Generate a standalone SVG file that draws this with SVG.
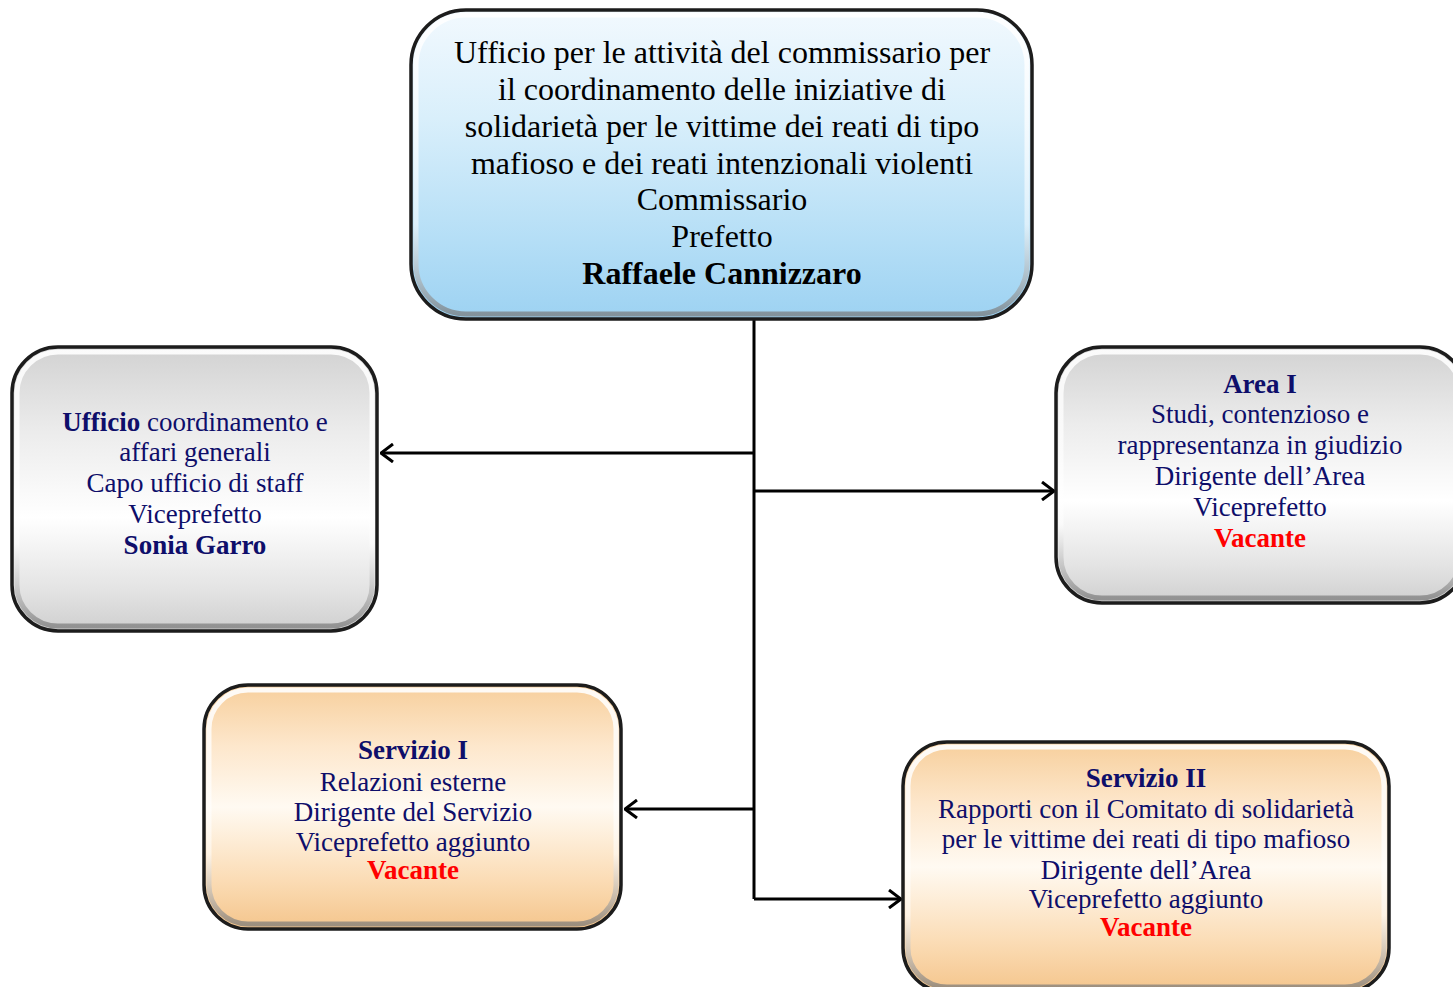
<svg xmlns="http://www.w3.org/2000/svg" width="1453" height="987" viewBox="0 0 1453 987">
<defs>
<linearGradient id="gBlue" x1="0" y1="0" x2="0" y2="1">
<stop offset="0" stop-color="#f2f9fe"/>
<stop offset="0.35" stop-color="#d9effb"/>
<stop offset="0.75" stop-color="#b4def6"/>
<stop offset="1" stop-color="#9dd2f2"/>
</linearGradient>
<linearGradient id="gGrey" x1="0" y1="0" x2="0" y2="1">
<stop offset="0" stop-color="#d2d2d2"/>
<stop offset="0.3" stop-color="#ececec"/>
<stop offset="0.6" stop-color="#ffffff"/>
<stop offset="0.85" stop-color="#e4e4e4"/>
<stop offset="1" stop-color="#cfcfcf"/>
</linearGradient>
<linearGradient id="gOrange" x1="0" y1="0" x2="0" y2="1">
<stop offset="0" stop-color="#f7cf9c"/>
<stop offset="0.25" stop-color="#fde7cc"/>
<stop offset="0.5" stop-color="#fffaf2"/>
<stop offset="0.8" stop-color="#fbdcb5"/>
<stop offset="1" stop-color="#f4c58c"/>
</linearGradient>
<linearGradient id="gRim" x1="0" y1="0" x2="0" y2="1">
<stop offset="0" stop-color="#ffffff" stop-opacity="0.9"/>
<stop offset="0.7" stop-color="#ffffff" stop-opacity="0.5"/>
<stop offset="1" stop-color="#777777" stop-opacity="0.7"/>
</linearGradient>
<marker id="arr" viewBox="0 0 14 20" refX="13" refY="10" markerWidth="14" markerHeight="20" markerUnits="userSpaceOnUse" orient="auto">
<path d="M1,1 L13,10 L1,19" fill="none" stroke="#000" stroke-width="3"/>
</marker>
<style>
.outline{stroke:#1c1c1c;stroke-width:3.5}
.rim{fill:none;stroke:url(#gRim);stroke-width:5}
.top{font-family:"Liberation Serif","Times New Roman",serif;font-size:32px;fill:#000;text-anchor:middle}
.t{font-family:"Liberation Serif","Times New Roman",serif;font-size:27px;fill:#0e0e6a;text-anchor:middle}
.b{font-weight:bold}
.red{fill:#ff0000;font-weight:bold}
.conn{fill:none;stroke:#000;stroke-width:3}
</style>
</defs>
<rect width="1453" height="987" fill="#ffffff"/>

<g id="connectors">
<line class="conn" x1="754" y1="320" x2="754" y2="899"/>
<line class="conn" x1="754" y1="453" x2="381" y2="453" marker-end="url(#arr)"/>
<line class="conn" x1="754" y1="491" x2="1054" y2="491" marker-end="url(#arr)"/>
<line class="conn" x1="754" y1="809" x2="625" y2="809" marker-end="url(#arr)"/>
<line class="conn" x1="754" y1="899" x2="901" y2="899" marker-end="url(#arr)"/>
</g>

<g id="commissario">
<rect class="outline" x="411" y="10" width="621" height="309" rx="55" fill="url(#gBlue)"/>
<rect class="rim" x="416" y="15" width="611" height="299" rx="50"/>
<text class="top" x="722" y="63">Ufficio per le attività del commissario per</text>
<text class="top" x="722" y="100">il coordinamento delle iniziative di</text>
<text class="top" x="722" y="137">solidarietà per le vittime dei reati di tipo</text>
<text class="top" x="722" y="174">mafioso e dei reati intenzionali violenti</text>
<text class="top" x="722" y="210">Commissario</text>
<text class="top" x="722" y="247">Prefetto</text>
<text class="top b" x="722" y="284">Raffaele Cannizzaro</text>
</g>

<g id="ufficio">
<rect class="outline" x="12" y="347" width="365" height="284" rx="46" fill="url(#gGrey)"/>
<rect class="rim" x="17" y="352" width="355" height="274" rx="41"/>
<text class="t" x="195" y="431"><tspan class="b">Ufficio</tspan> coordinamento e</text>
<text class="t" x="195" y="461">affari generali</text>
<text class="t" x="195" y="492">Capo ufficio di staff</text>
<text class="t" x="195" y="523">Viceprefetto</text>
<text class="t b" x="195" y="554">Sonia Garro</text>
</g>

<g id="area1">
<rect class="outline" x="1056" y="347" width="410" height="256" rx="46" fill="url(#gGrey)"/>
<rect class="rim" x="1061" y="352" width="400" height="246" rx="41"/>
<text class="t b" x="1260" y="393">Area I</text>
<text class="t" x="1260" y="423">Studi, contenzioso e</text>
<text class="t" x="1260" y="454">rappresentanza in giudizio</text>
<text class="t" x="1260" y="485">Dirigente dell’Area</text>
<text class="t" x="1260" y="516">Viceprefetto</text>
<text class="t red" x="1260" y="547">Vacante</text>
</g>

<g id="servizio1">
<rect class="outline" x="204" y="685" width="417" height="244" rx="44" fill="url(#gOrange)"/>
<rect class="rim" x="209" y="690" width="407" height="234" rx="39"/>
<text class="t b" x="413" y="759">Servizio I</text>
<text class="t" x="413" y="791">Relazioni esterne</text>
<text class="t" x="413" y="821">Dirigente del Servizio</text>
<text class="t" x="413" y="851">Viceprefetto aggiunto</text>
<text class="t red" x="413" y="879">Vacante</text>
</g>

<g id="servizio2">
<rect class="outline" x="903" y="742" width="486" height="250" rx="44" fill="url(#gOrange)"/>
<rect class="rim" x="908" y="747" width="476" height="240" rx="39"/>
<text class="t b" x="1146" y="787">Servizio II</text>
<text class="t" x="1146" y="818">Rapporti con il Comitato di solidarietà</text>
<text class="t" x="1146" y="848">per le vittime dei reati di tipo mafioso</text>
<text class="t" x="1146" y="879">Dirigente dell’Area</text>
<text class="t" x="1146" y="908">Viceprefetto aggiunto</text>
<text class="t red" x="1146" y="936">Vacante</text>
</g>
</svg>
